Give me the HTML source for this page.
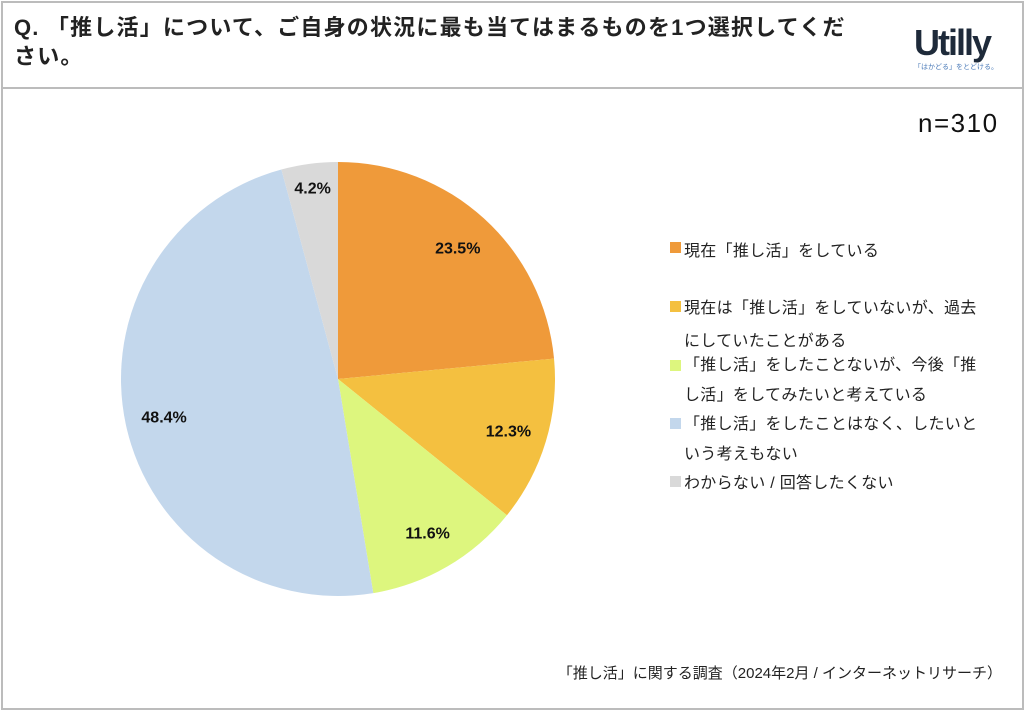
<!DOCTYPE html>
<html><head><meta charset="utf-8"><style>
body{margin:0;width:1024px;height:710px;background:#fff;font-family:"Liberation Sans","Noto Sans CJK JP",sans-serif;overflow:hidden;position:relative}
.frame{position:absolute;left:1px;top:1px;width:1019px;height:705px;border:2px solid #bcbcbc}
.hdr{position:absolute;left:3px;top:87px;width:1019px;height:0;border-top:2px solid #bcbcbc}
.title{position:absolute;left:14px;top:13px;font-size:22px;font-weight:bold;color:#222;line-height:29px;width:835px;letter-spacing:1.2px}
.logo{position:absolute;left:914px;top:22px;font-size:36px;font-weight:bold;color:#1e2a3a;letter-spacing:-2px}
.logosub{position:absolute;left:914px;top:62px;font-size:7px;color:#4a7ab8}
.n{position:absolute;left:918px;top:108px;font-size:26px;color:#111;letter-spacing:1.5px}
.lg{position:absolute;left:684px;font-size:16px;color:#222;white-space:nowrap;letter-spacing:0.3px}
.sw{position:absolute;left:670px;width:11px;height:11px}
.foot{position:absolute;right:22px;top:662px;font-size:15px;color:#222}
</style></head><body>
<div class="frame"></div>
<div class="hdr"></div>
<div class="title">Q. 「推し活」について、ご自身の状況に最も当てはまるものを1つ選択してください。</div>
<div class="logo">Utilly</div>
<div class="logosub">「はかどる」をとどける。</div>
<div class="n">n=310</div>
<svg id="pie" width="1024" height="710" style="position:absolute;left:0;top:0"></svg>
<div class="sw" style="top:242px;background:#EF9A3A"></div>
<div class="lg" style="top:237px">現在「推し活」をしている</div>
<div class="sw" style="top:301px;background:#F4C040"></div>
<div class="lg" style="top:292px;line-height:33px">現在は「推し活」をしていないが、過去<br>にしていたことがある</div>
<div class="sw" style="top:360px;background:#DDF67E"></div>
<div class="lg" style="top:351px;line-height:30px">「推し活」をしたことないが、今後「推<br>し活」をしてみたいと考えている</div>
<div class="sw" style="top:418px;background:#C3D7EC"></div>
<div class="lg" style="top:410px;line-height:30px">「推し活」をしたことはなく、したいと<br>いう考えもない</div>
<div class="sw" style="top:476px;background:#D9D9D9"></div>
<div class="lg" style="top:469px">わからない / 回答したくない</div>
<div class="foot">「推し活」に関する調査（2024年2月 / インターネットリサーチ）</div>
<script>
const categories=["current","past","future","never","unknown"];
const values=[23.5,12.3,11.6,48.4,4.2];
const labels=["23.5%","12.3%","11.6%","48.4%","4.2%"];
const colors=["#EF9A3A","#F4C040","#DDF67E","#C3D7EC","#D9D9D9"];
const svg=document.getElementById('pie');
const cx=338,cy=379,r=217,NS="http://www.w3.org/2000/svg";
const total=values.reduce((a,b)=>a+b,0);
let a0=0;
function pt(a,rr){return [cx+rr*Math.sin(a),cy-rr*Math.cos(a)];}
values.forEach((v,i)=>{
  const a1=a0+v/total*2*Math.PI;
  const p0=pt(a0,r),p1=pt(a1,r);
  const large=(a1-a0)>Math.PI?1:0;
  const path=document.createElementNS(NS,'path');
  path.setAttribute('d',`M${cx},${cy}L${p0[0]},${p0[1]}A${r},${r} 0 ${large} 1 ${p1[0]},${p1[1]}Z`);
  path.setAttribute('fill',colors[i]);
  
  
  svg.appendChild(path);
  const m=(a0+a1)/2;const lr=v<6?0.89*r:0.82*r;const lp=pt(m,lr);
  const t=document.createElementNS(NS,'text');
  t.setAttribute('x',lp[0]);t.setAttribute('y',lp[1]+6);
  t.setAttribute('text-anchor','middle');t.setAttribute('font-size','16');t.setAttribute('font-weight','bold');t.setAttribute('fill','#111');
  t.setAttribute('font-family','"Liberation Sans",sans-serif');
  t.textContent=labels[i];
  
  
  svg.appendChild(t);
  a0=a1;
});
</script>
</body></html>
